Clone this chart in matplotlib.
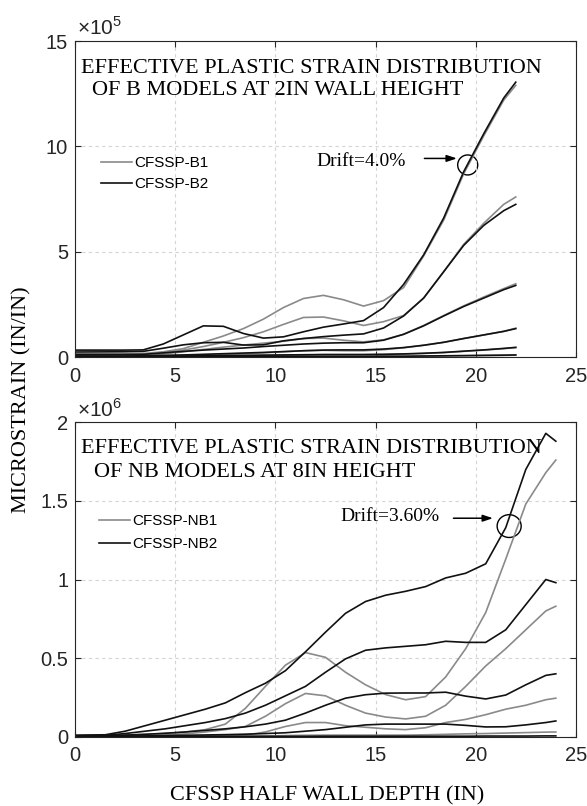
import matplotlib.pyplot as plt
from matplotlib.patches import Ellipse
from matplotlib.ticker import FuncFormatter

plt.rcParams['font.family'] = ['Liberation Sans', 'DejaVu Sans']
plt.rcParams['mathtext.fontset'] = 'custom'
plt.rcParams['mathtext.rm'] = 'Liberation Sans'

# half wall depth (in) where strains were sampled
x_b = [0, 2.4, 3.4, 4.4, 5.4, 6.4, 7.4, 8.4, 9.4, 10.4, 11.4, 12.4, 13.4, 14.4,
       15.4, 16.4, 17.4, 18.4, 19.4, 20.4, 21.4, 22]
x_nb = [0, 1.5, 2.5, 3.5, 4.5, 5.5, 6.5, 7.5, 8.5, 9.5, 10.5, 11.5, 12.5, 13.5,
        14.5, 15.5, 16.5, 17.5, 18.5, 19.5, 20.5, 21.5, 22.5, 23.5, 24]

# B models, microstrain x 1e5, one list per drift level
b1_strain = [
    [0.15, 0.15, 0.17, 0.25, 0.4, 0.7, 1.0, 1.35, 1.8, 2.35, 2.78, 2.93, 2.72, 2.42, 2.68, 3.3, 4.8, 6.5, 8.7, 10.5, 12.2, 12.9],
    [0.1, 0.1, 0.12, 0.22, 0.33, 0.5, 0.7, 0.92, 1.2, 1.55, 1.88, 1.9, 1.72, 1.5, 1.68, 1.97, 2.8, 4.05, 5.35, 6.35, 7.25, 7.6],
    [0.06, 0.06, 0.08, 0.15, 0.25, 0.36, 0.47, 0.57, 0.66, 0.75, 0.88, 0.9, 0.8, 0.72, 0.82, 1.08, 1.5, 1.97, 2.43, 2.85, 3.25, 3.48],
    [0.03, 0.03, 0.04, 0.06, 0.08, 0.1, 0.13, 0.16, 0.2, 0.25, 0.3, 0.32, 0.3, 0.3, 0.35, 0.44, 0.56, 0.7, 0.88, 1.05, 1.22, 1.37],
    [0.01, 0.01, 0.02, 0.03, 0.04, 0.05, 0.06, 0.07, 0.08, 0.09, 0.1, 0.11, 0.11, 0.11, 0.12, 0.14, 0.17, 0.21, 0.27, 0.33, 0.4, 0.45],
    [0.0, 0.0, 0.01, 0.01, 0.01, 0.01, 0.02, 0.02, 0.02, 0.02, 0.03, 0.03, 0.03, 0.03, 0.03, 0.03, 0.04, 0.05, 0.06, 0.07, 0.08, 0.09],
]
b2_strain = [
    [0.33, 0.33, 0.34, 0.62, 1.05, 1.48, 1.46, 1.12, 0.9, 0.96, 1.2, 1.42, 1.57, 1.73, 2.35, 3.45, 4.85, 6.6, 8.8, 10.6, 12.3, 13.05],
    [0.24, 0.25, 0.27, 0.42, 0.58, 0.68, 0.7, 0.57, 0.58, 0.77, 0.88, 0.97, 1.04, 1.1, 1.38, 1.95, 2.8, 4.05, 5.3, 6.25, 6.95, 7.25],
    [0.12, 0.12, 0.13, 0.2, 0.27, 0.33, 0.38, 0.43, 0.5, 0.56, 0.62, 0.66, 0.68, 0.68, 0.8, 1.08, 1.48, 1.95, 2.4, 2.8, 3.2, 3.4],
    [0.05, 0.05, 0.06, 0.08, 0.1, 0.13, 0.16, 0.19, 0.22, 0.26, 0.3, 0.33, 0.34, 0.34, 0.38, 0.45, 0.56, 0.7, 0.88, 1.05, 1.22, 1.35],
    [0.02, 0.02, 0.03, 0.04, 0.05, 0.06, 0.07, 0.08, 0.09, 0.1, 0.11, 0.12, 0.12, 0.12, 0.13, 0.15, 0.18, 0.22, 0.28, 0.34, 0.41, 0.46],
    [0.01, 0.01, 0.01, 0.01, 0.02, 0.02, 0.02, 0.02, 0.03, 0.03, 0.03, 0.03, 0.03, 0.03, 0.04, 0.04, 0.05, 0.06, 0.07, 0.08, 0.09, 0.1],
]

# NB models, microstrain x 1e6
nb1_strain = [
    [0.003, 0.005, 0.01, 0.015, 0.02, 0.03, 0.045, 0.08, 0.18, 0.32, 0.455, 0.535, 0.505, 0.41, 0.33, 0.268, 0.235, 0.255, 0.38, 0.56, 0.79, 1.13, 1.48, 1.68, 1.76],
    [0.002, 0.003, 0.005, 0.008, 0.012, 0.018, 0.03, 0.045, 0.065, 0.13, 0.21, 0.275, 0.26, 0.2, 0.15, 0.125, 0.113, 0.13, 0.2, 0.32, 0.45, 0.56, 0.68, 0.8, 0.83],
    [0.001, 0.001, 0.002, 0.002, 0.003, 0.004, 0.005, 0.007, 0.01, 0.03, 0.065, 0.09, 0.09, 0.07, 0.06, 0.05, 0.045, 0.057, 0.09, 0.11, 0.14, 0.175, 0.2, 0.235, 0.245],
    [0.001, 0.001, 0.001, 0.001, 0.002, 0.002, 0.003, 0.003, 0.004, 0.005, 0.007, 0.009, 0.01, 0.01, 0.01, 0.01, 0.01, 0.012, 0.015, 0.018, 0.02, 0.023, 0.026, 0.029, 0.03],
]
nb2_strain = [
    [0.01, 0.012, 0.035, 0.07, 0.105, 0.14, 0.175, 0.215, 0.28, 0.34, 0.42, 0.54, 0.665, 0.785, 0.86, 0.9, 0.925, 0.955, 1.01, 1.04, 1.1, 1.33, 1.7, 1.93, 1.88],
    [0.005, 0.008, 0.02, 0.035, 0.05, 0.07, 0.09, 0.115, 0.15, 0.2, 0.26, 0.32, 0.41, 0.495, 0.55, 0.565, 0.575, 0.585, 0.607, 0.6, 0.6, 0.68, 0.84, 1.0, 0.98],
    [0.005, 0.005, 0.01, 0.015, 0.022, 0.03, 0.04, 0.05, 0.063, 0.08, 0.105, 0.15, 0.2, 0.245, 0.267, 0.277, 0.278, 0.278, 0.283, 0.258, 0.24, 0.265, 0.33, 0.39, 0.4],
    [0.003, 0.003, 0.004, 0.005, 0.007, 0.009, 0.011, 0.013, 0.016, 0.02, 0.025, 0.035, 0.045, 0.06, 0.075, 0.08, 0.08, 0.08, 0.08, 0.072, 0.062, 0.063, 0.075, 0.09, 0.1],
    [0.002, 0.002, 0.002, 0.002, 0.002, 0.002, 0.002, 0.002, 0.002, 0.002, 0.002, 0.002, 0.003, 0.003, 0.003, 0.003, 0.003, 0.003, 0.003, 0.003, 0.004, 0.004, 0.004, 0.005, 0.005],
]

GRAY = '#8a8a8a'
BLACK = '#111111'
serif = ['Liberation Serif', 'DejaVu Serif']

fig = plt.figure(figsize=(5.87, 8.06), dpi=100)
ax1 = fig.add_axes([0.128, 0.557, 0.853, 0.392])
ax2 = fig.add_axes([0.128, 0.086, 0.853, 0.39])


def style(ax, ymax, ystep, scale):
    ax.set_xlim(0, 25)
    ax.set_ylim(0, ymax)
    ax.set_xticks(range(0, 26, 5))
    ax.set_yticks([i * ystep for i in range(int(round(ymax / ystep)) + 1)])
    ax.yaxis.set_major_formatter(FuncFormatter(lambda v, p: f'{v / scale:g}'))
    ax.grid(True, ls=(0, (3, 3)), color='#d4d4d4', lw=0.8)
    ax.tick_params(direction='in', top=True, right=True, length=4,
                   labelsize=14.5, colors='#262626', width=0.8)
    ax.tick_params(axis='x', pad=7)
    ax.tick_params(axis='y', pad=5)
    for s in ax.spines.values():
        s.set_color('#262626')
        s.set_linewidth(0.8)


# top panel: B models
for i, c in enumerate(b1_strain):
    ax1.plot(x_b, [v * 1e5 for v in c], color=GRAY, lw=1.2,
             label='CFSSP-B1' if i == 0 else None)
for i, c in enumerate(b2_strain):
    ax1.plot(x_b, [v * 1e5 for v in c], color=BLACK, lw=1.2,
             label='CFSSP-B2' if i == 0 else None)
style(ax1, 15e5, 5e5, 1e5)
ax1.text(0.004, 1.006, r'$\times10^{5}$', transform=ax1.transAxes, fontsize=15,
         va='bottom', ha='left', color='#262626')
ax1.text(0.011, 0.899, 'EFFECTIVE PLASTIC STRAIN DISTRIBUTION', transform=ax1.transAxes,
         family=serif, fontsize=16, va='baseline')
ax1.text(0.034, 0.829, 'OF B MODELS AT 2IN WALL HEIGHT', transform=ax1.transAxes,
         family=serif, fontsize=16, va='baseline')
ax1.legend(loc='center left', bbox_to_anchor=(0.052, 0.58), frameon=False,
           fontsize=11, handlelength=2.0, handletextpad=0.15, labelspacing=0.45,
           borderpad=0, borderaxespad=0)
ax1.text(16.5, 9.27e5, 'Drift=4.0%', family=serif, fontsize=14, ha='right', va='center')
ax1.annotate('', xy=(19.2, 9.43e5), xytext=(17.3, 9.43e5),
             arrowprops=dict(arrowstyle='-|>,head_length=0.6,head_width=0.2', color='k', lw=1.1))
ax1.add_patch(Ellipse((19.6, 9.12e5), 1.0, 0.95e5, fill=False, ec='k', lw=1.0))

# bottom panel: NB models
for i, c in enumerate(nb1_strain):
    ax2.plot(x_nb, [v * 1e6 for v in c], color=GRAY, lw=1.2,
             label='CFSSP-NB1' if i == 0 else None)
for i, c in enumerate(nb2_strain):
    ax2.plot(x_nb, [v * 1e6 for v in c], color=BLACK, lw=1.2,
             label='CFSSP-NB2' if i == 0 else None)
style(ax2, 2e6, 0.5e6, 1e6)
ax2.text(0.004, 1.006, r'$\times10^{6}$', transform=ax2.transAxes, fontsize=15,
         va='bottom', ha='left', color='#262626')
ax2.text(0.011, 0.904, 'EFFECTIVE PLASTIC STRAIN DISTRIBUTION', transform=ax2.transAxes,
         family=serif, fontsize=16, va='baseline')
ax2.text(0.037, 0.825, 'OF NB MODELS AT 8IN HEIGHT', transform=ax2.transAxes,
         family=serif, fontsize=16, va='baseline')
ax2.legend(loc='center left', bbox_to_anchor=(0.048, 0.649), frameon=False,
           fontsize=11, handlelength=2.0, handletextpad=0.15, labelspacing=0.55,
           borderpad=0, borderaxespad=0)
ax2.text(18.2, 1.40e6, 'Drift=3.60%', family=serif, fontsize=14, ha='right', va='center')
ax2.annotate('', xy=(21.0, 1.39e6), xytext=(18.75, 1.39e6),
             arrowprops=dict(arrowstyle='-|>,head_length=0.6,head_width=0.2', color='k', lw=1.1))
ax2.add_patch(Ellipse((21.67, 1.34e6), 1.2, 0.145e6, fill=False, ec='k', lw=1.0))

fig.text(0.037, 0.504, 'MICROSTRAIN (IN/IN)', family=serif, fontsize=16,
         rotation=90, ha='center', va='center')
fig.text(0.558, 0.013, 'CFSSP HALF WALL DEPTH (IN)', family=serif, fontsize=16,
         ha='center', va='center')

fig.savefig('out.png', dpi=100)
